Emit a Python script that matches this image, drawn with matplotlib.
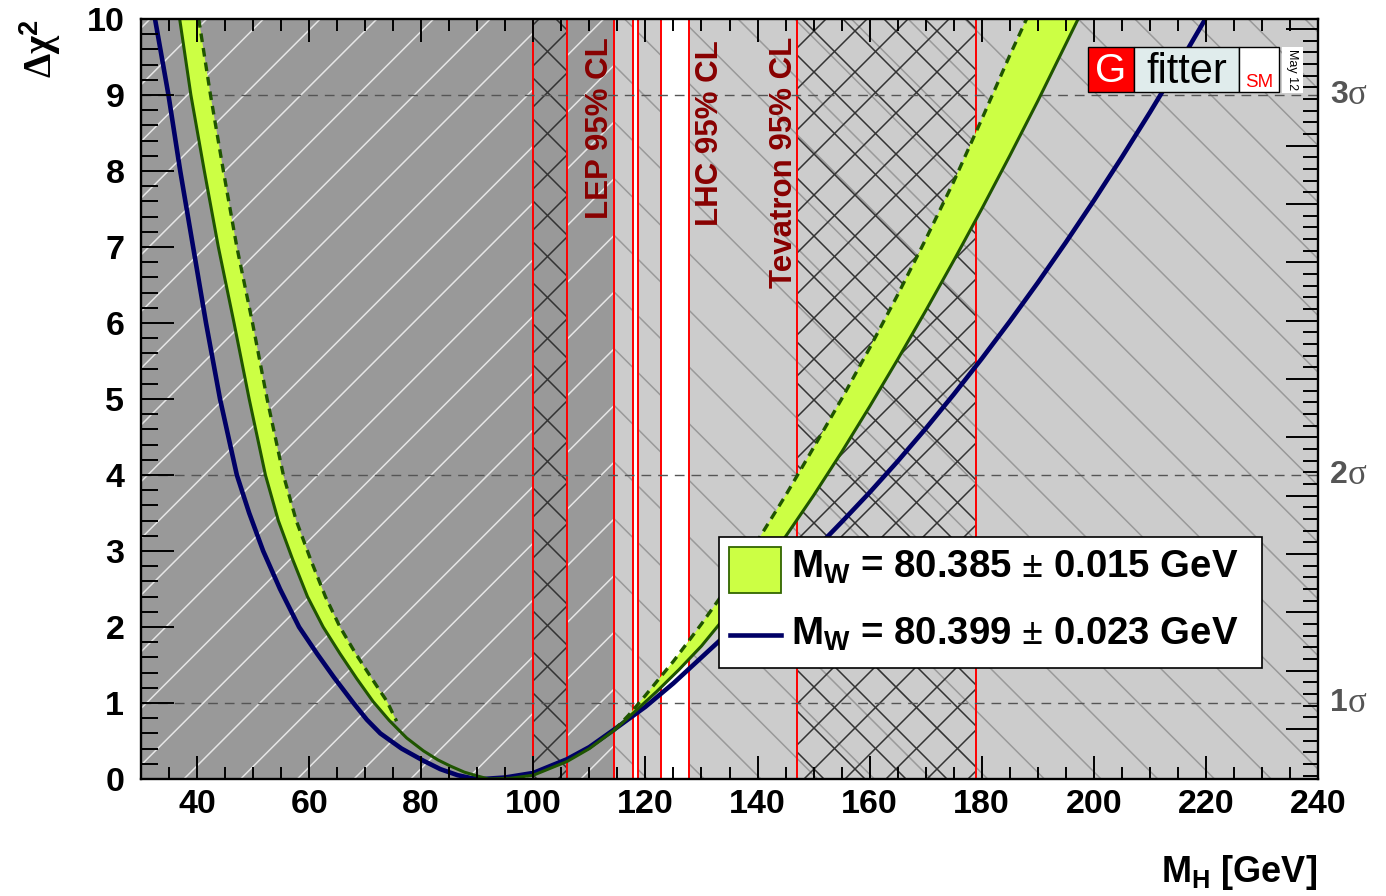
import numpy as np
import matplotlib.pyplot as plt
from matplotlib.patches import Rectangle
from matplotlib.collections import LineCollection
from matplotlib.lines import Line2D
from matplotlib.ticker import MultipleLocator

plt.rcParams['font.family'] = 'Liberation Sans'
plt.rcParams['font.weight'] = 'bold'
plt.rcParams['mathtext.fontset'] = 'custom'
plt.rcParams['mathtext.rm'] = 'Liberation Serif'
plt.rcParams['mathtext.it'] = 'Liberation Serif:italic'
plt.rcParams['mathtext.bf'] = 'Liberation Sans:bold'

# fit with M_W = 80.399 +- 0.023 GeV
mh_old = [32.5, 34.9, 37.0, 39.3, 41.6, 44.1, 47.1, 49.3, 51.8, 54.8, 58.2, 61.4, 64.5,
          67.9, 70.3, 72.7, 76.5, 80.4, 83.4, 86.5, 89.0, 91.0, 95.0, 100.0, 106.0,
          110.0, 114.4, 120.0, 125.0, 130.0, 135.0, 140.0, 145.0, 150.0, 155.0, 160.0,
          165.0, 170.0, 175.0, 180.0, 185.0, 190.0, 195.0, 200.0, 205.0, 210.0, 215.0,
          219.9]
chi2_old = [10.0, 9.0, 8.0, 7.0, 6.0, 5.0, 4.0, 3.5, 3.0, 2.5, 2.0, 1.65, 1.33,
            1.0, 0.78, 0.6, 0.4, 0.24, 0.13, 0.05, 0.01, 0.0, 0.02, 0.08, 0.26,
            0.42, 0.65, 0.95, 1.26, 1.6, 1.94, 2.28, 2.63, 3.0, 3.38, 3.77,
            4.18, 4.61, 5.06, 5.53, 6.02, 6.53, 7.06, 7.61, 8.18, 8.77, 9.38,
            10.0]

# fit with M_W = 80.385 +- 0.015 GeV: lower (solid) edge of the band
mh_low = [36.9, 38.9, 41.3, 43.8, 46.6, 49.3, 52.2, 54.5, 57.0, 59.7, 62.5, 65.5, 68.5,
          71.4, 74.3, 77.4, 80.4, 83.0, 85.2, 87.7, 90.0, 92.0, 96.0, 100.0, 106.0,
          110.0, 114.4, 118.0, 122.0, 126.0, 130.0, 135.0, 140.0, 145.0, 150.0, 155.0,
          160.0, 165.0, 170.0, 175.0, 180.0, 185.0, 190.0, 195.0, 197.2]
chi2_low = [10.0, 9.0, 8.0, 7.0, 6.0, 5.0, 4.0, 3.4, 2.9, 2.4, 2.0, 1.65, 1.32,
            1.02, 0.77, 0.54, 0.37, 0.25, 0.17, 0.09, 0.04, 0.0, 0.01, 0.05, 0.23,
            0.4, 0.64, 0.88, 1.15, 1.44, 1.75, 2.2, 2.68, 3.19, 3.73, 4.3,
            4.9, 5.52, 6.16, 6.82, 7.5, 8.2, 8.92, 9.67, 10.0]

# upper (dashed) edge of the band, left and right branch
mh_up_left = [40.3, 42.4, 44.7, 47.1, 49.9, 52.5, 55.4, 57.7, 60.2, 62.9, 65.5, 68.3,
              71.2, 73.9, 75.6]
chi2_up_left = [10.0, 9.0, 8.0, 7.0, 6.0, 5.0, 4.0, 3.4, 2.9, 2.4, 2.0, 1.65,
                1.32, 1.02, 0.76]
mh_up_right = [114.4, 117.0, 120.0, 125.0, 130.0, 135.0, 140.8, 145.0, 150.0, 155.0,
               160.0, 165.0, 170.0, 175.0, 180.0, 185.0, 188.0]
chi2_up_right = [0.64, 0.84, 1.1, 1.55, 2.04, 2.56, 3.23, 3.73, 4.36, 5.0,
                 5.67, 6.37, 7.1, 7.86, 8.68, 9.52, 10.0]

lep_limit = 114.4
lhc_windows = [(117.7, 118.6), (122.7, 127.7)]
tevatron_excl = [(100.0, 106.0), (147.0, 179.0)]
sigma_levels = [1, 4, 9]
sigma_names = ['1', '2', '3']
legend_labels = ['80.385', '0.015', '80.399', '0.023']

W_IMG, H_IMG = 1386, 896
AX_L, AX_R, AX_B, AX_T = 141, 1318, 779, 19
W_PX, H_PX = AX_R - AX_L, AX_B - AX_T
SX, SY = W_PX / 210.0, H_PX / 10.0


def fx(px):
    return px / W_IMG


def fy(py):
    return 1 - py / H_IMG


def hatch(ax, x0, x1, step, sign, color, lw, phase, zorder):
    # 45 degree lines on screen, cut to the band x0..x1
    segs = []
    a, b = (x0 - 30) * SX, (x1 - 30) * SX
    for c in np.arange(phase - 2 * H_PX, W_PX + 2 * H_PX, step):
        if sign > 0:
            v0, v1 = max(0, a - c), min(H_PX, b - c)
            if v0 < v1:
                segs.append([(30 + (c + v0) / SX, v0 / SY), (30 + (c + v1) / SX, v1 / SY)])
        else:
            v0, v1 = max(0, c - b), min(H_PX, c - a)
            if v0 < v1:
                segs.append([(30 + (c - v0) / SX, v0 / SY), (30 + (c - v1) / SX, v1 / SY)])
    lc = LineCollection(segs, colors=color, linewidths=lw, zorder=zorder)
    ax.add_collection(lc, autolim=False)


fig = plt.figure(figsize=(13.86, 8.96), dpi=100)
ax = fig.add_axes([fx(AX_L), fy(AX_B), W_PX / W_IMG, H_PX / H_IMG])
ax.set_xlim(30, 240)
ax.set_ylim(0, 10)
ax.set_facecolor('#cccccc')

# LHC exclusion hatch, LEP region, Tevatron cross hatch
hatch(ax, lep_limit, 240, 56.7, -1, '#999999', 1.1, 42, 0.6)
ax.add_patch(Rectangle((30, 0), lep_limit - 30, 10, fc='#999999', ec='none', zorder=0.7))
lo, hi = tevatron_excl[0]
hatch(ax, 30, lo, 56.7, 1, '#e6e6e6', 1.1, 32, 0.8)
hatch(ax, hi, lep_limit, 56.7, 1, '#e6e6e6', 1.1, 32, 0.8)
for lo, hi in tevatron_excl:
    hatch(ax, lo, hi, 41, 1, '#333333', 1.1, 10, 1.0)
    hatch(ax, lo, hi, 41, -1, '#333333', 1.1, 30, 1.0)
for lo, hi in lhc_windows:
    ax.add_patch(Rectangle((lo, 0), hi - lo, 10, fc='white', ec='none', zorder=1.1))

edges = [lep_limit] + [v for w in lhc_windows for v in w] + [v for w in tevatron_excl for v in w]
for xv in edges:
    ax.axvline(xv, color='#ff0000', lw=1.4, zorder=1.2)

for lv in sigma_levels:
    ax.axhline(lv, color='#555555', lw=1.0, dashes=(7, 5), zorder=1.3)

# band for the new M_W fit
mh_low_a = np.array(mh_low)
chi2_low_a = np.array(chi2_low)
left = mh_low_a <= 75
right = mh_low_a >= lep_limit
ax.fill(np.concatenate([mh_low_a[left], mh_up_left[::-1]]),
        np.concatenate([chi2_low_a[left], chi2_up_left[::-1]]),
        fc='#ccff44', ec='none', zorder=2.0)
ax.fill(np.concatenate([mh_low_a[right], mh_up_right[::-1]]),
        np.concatenate([chi2_low_a[right], chi2_up_right[::-1]]),
        fc='#ccff44', ec='none', zorder=2.0)

ax.plot(mh_old, chi2_old, color='#000066', lw=3.3, zorder=2.1)
ax.plot(mh_low, chi2_low, color='#1f5500', lw=2.2, zorder=2.2)
ax.plot(mh_up_left, chi2_up_left, color='#1f5500', lw=2.4, dashes=(2.6, 1.8), zorder=2.2)
ax.plot(mh_up_right, chi2_up_right, color='#1f5500', lw=2.4, dashes=(2.6, 1.8), zorder=2.2)

# experiment labels
txt = dict(rotation=90, rotation_mode='anchor', ha='right', va='baseline',
           color='#880000', fontsize=22.5, fontweight='bold', zorder=3)
ax.text(lep_limit - 1.0, 9.76, 'LEP 95% CL', **txt)
ax.text(133.0, 9.72, 'LHC 95% CL', **txt)
ax.text(tevatron_excl[1][0] - 0.8, 9.76, 'Tevatron 95% CL', **txt)

# axes styling
ax.xaxis.set_major_locator(MultipleLocator(20))
ax.xaxis.set_minor_locator(MultipleLocator(5))
ax.yaxis.set_major_locator(MultipleLocator(1))
ax.yaxis.set_minor_locator(MultipleLocator(0.2))
ax.tick_params(axis='x', which='both', direction='in', top=True, bottom=True,
               width=1.4, labelsize=24.5, pad=7)
ax.tick_params(axis='x', which='major', length=16.5)
ax.tick_params(axis='x', which='minor', length=8.5)
ax.tick_params(axis='y', which='both', direction='in', left=True, right=False,
               width=1.4, labelsize=24.5, pad=12)
ax.tick_params(axis='y', which='major', length=24)
ax.tick_params(axis='y', which='minor', length=12)
for s in ax.spines.values():
    s.set_linewidth(1.7)
ax.set_axisbelow(False)

ax2 = ax.twinx()
step = 0.7675
ax2.set_ylim(-0.66 / step, (10 - 0.66) / step)
ax2.yaxis.set_major_locator(MultipleLocator(1))
ax2.yaxis.set_minor_locator(MultipleLocator(0.2))
ax2.tick_params(axis='y', which='both', direction='in', width=1.4, labelright=False)
ax2.tick_params(axis='y', which='major', length=23)
ax2.tick_params(axis='y', which='minor', length=11)
for s in ax2.spines.values():
    s.set_visible(False)

for lv, name in zip(sigma_levels, sigma_names):
    ax.text((1330 - AX_L) / W_PX, lv, name, transform=ax.get_yaxis_transform(),
            ha='left', va='center', color='#555555', fontsize=23, clip_on=False)
    ax.text((1348 - AX_L) / W_PX, lv, '\u03c3', transform=ax.get_yaxis_transform(),
            ha='left', va='center', color='#555555', fontsize=25, fontweight='normal',
            family='Liberation Serif', clip_on=False)

fig.text(fx(52), fy(19), r'$\Delta\mathrm{\chi}^{\mathbf{2}}$', rotation=90,
         rotation_mode='anchor', ha='right', va='baseline', fontsize=28)
fig.text(fx(1317), fy(882), r'$\mathbf{M_{H}}$ [GeV]', ha='right', va='baseline',
         fontsize=26, fontweight='bold')


def box(x0, y0, x1, y1, **kw):
    r = Rectangle((fx(x0), fy(y1)), fx(x1) - fx(x0), fy(y0) - fy(y1),
                  transform=fig.transFigure, **kw)
    fig.add_artist(r)


# legend
box(719, 537, 1262, 668, fc='white', ec='black', lw=1.2, zorder=5)
box(729, 547, 781, 593, fc='#ccff44', ec='#336600', lw=1.3, zorder=6)
fig.add_artist(Line2D([fx(730), fx(781)], [fy(635), fy(635)], color='#000066', lw=3.3,
                      transform=fig.transFigure, zorder=6))
fig.text(fx(791), fy(578), r'$\mathbf{M_{W}}$ = %s $\mathrm{\pm}$ %s GeV' % tuple(legend_labels[:2]),
         ha='left', va='baseline', fontsize=27.6, fontweight='bold', zorder=7)
fig.text(fx(791), fy(645), r'$\mathbf{M_{W}}$ = %s $\mathrm{\pm}$ %s GeV' % tuple(legend_labels[2:]),
         ha='left', va='baseline', fontsize=27.6, fontweight='bold', zorder=7)

# Gfitter logo
box(1088, 47, 1134, 92, fc='#ff0000', ec='black', lw=1.0, zorder=5)
box(1134, 47, 1239, 92, fc='#e0ecec', ec='black', lw=1.0, zorder=5)
box(1239, 47, 1279, 92, fc='white', ec='black', lw=1.0, zorder=5)
box(1282, 47, 1303, 93, fc='white', ec='none', zorder=5)
fig.text(fx(1111), fy(82), 'G', ha='center', va='baseline', color='white',
         fontsize=29, fontweight='normal', zorder=7)
fig.text(fx(1187), fy(83), 'fitter', ha='center', va='baseline', color='black',
         fontsize=30, fontweight='normal', zorder=7)
fig.text(fx(1259), fy(87), 'SM', ha='center', va='baseline', color='#ff0000',
         fontsize=13.5, fontweight='normal', zorder=7)
fig.text(fx(1292), fy(70), 'May 12', rotation=-90, ha='center', va='center',
         color='black', fontsize=9, fontweight='normal', zorder=7)

fig.savefig('out.png', dpi=100)
